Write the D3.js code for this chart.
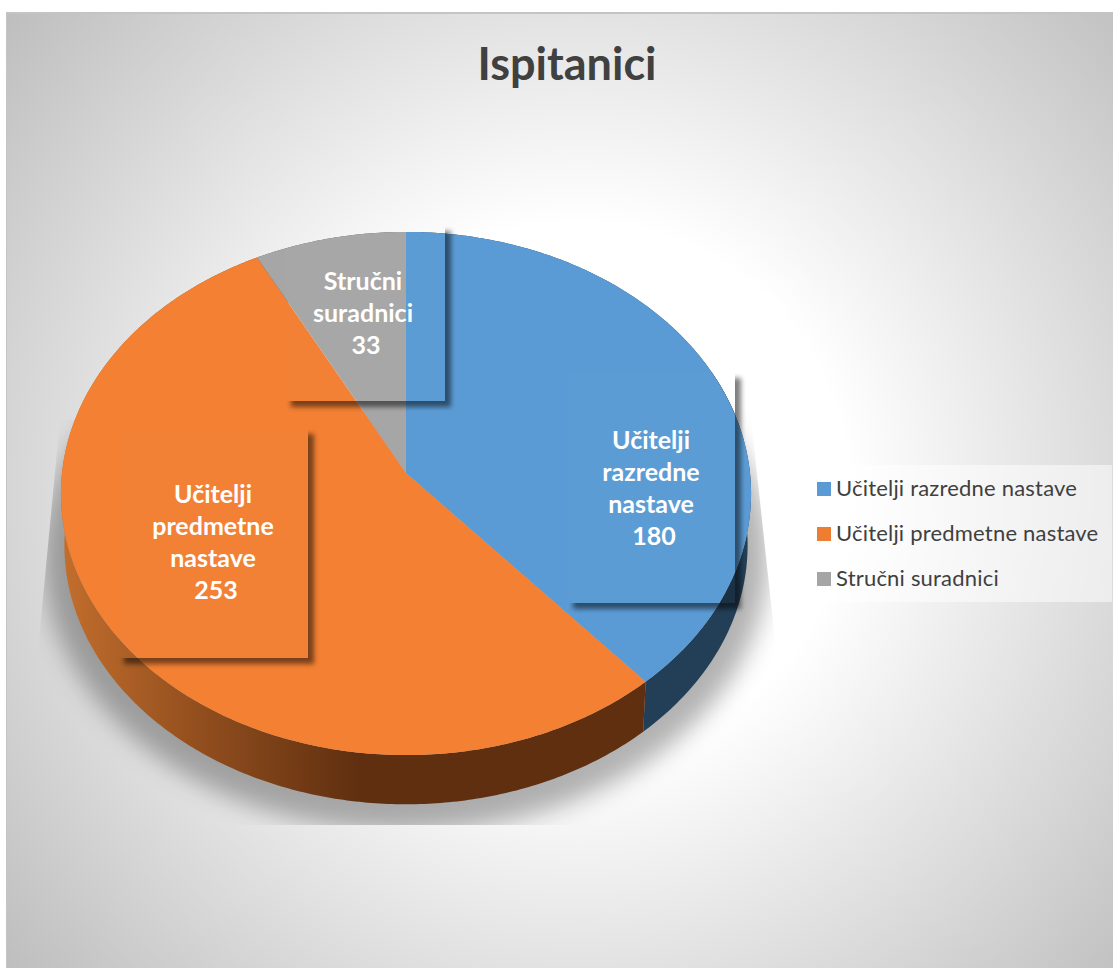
<!DOCTYPE html>
<html>
<head>
<meta charset="utf-8">
<script src="https://cdn.jsdelivr.net/npm/d3@7"></script>
<style>
    html, body { margin: 0; padding: 0; background: #fff; }
    svg { display: block; font-family: Lato, "Open Sans", sans-serif; }
</style>
</head>
<body>
<div id="chart"></div>
<script>
// data
const chartTitle = "Ispitanici";
const categories = ["Učitelji razredne nastave", "Učitelji predmetne nastave", "Stručni suradnici"];
const values = [180, 253, 33];
const labelLines = [
    ["Učitelji", "razredne", "nastave"],
    ["Učitelji", "predmetne", "nastave"],
    ["Stručni", "suradnici"]
];

const width = 1113, height = 968;

const svg = d3.select("#chart").append("svg")
    .attr("width", width)
    .attr("height", height);
const defs = svg.append("defs");

// pie geometry, tilted disc with a bit of perspective
const pieX = 406, pieY = 473, radX = 344, radY = 260, persp = 0.0784;
const wallScale = 0.99, wallDrop = 52;

function project(angle, s = 1, drop = 0) {
    // the original's projection opens up the back left quadrant a little
    let q = angle - 1.5 * Math.PI;
    if (q > 0) angle -= 0.047 * Math.sin(2 * q);
    let u = Math.sin(angle), v = -Math.cos(angle);
    let d = 1 - persp * v;
    return [pieX + radX * u / d * s, pieY + radY * v / d * s + drop];
}

const line = d3.line();
const arcPoints = (a0, a1, s, drop) => {
    let n = Math.max(2, Math.ceil((a1 - a0) * 90));
    return d3.range(n + 1).map(i => project(a0 + (a1 - a0) * i / n, s, drop));
};

const pie = d3.pie().sort(null)(values);
const color = d3.scaleOrdinal().domain(categories).range(["#5b9bd5", "#f38033", "#a6a6a6"]);
const legendColor = d3.scaleOrdinal().domain(categories).range(["#5b9bd5", "#ed7d31", "#a5a5a5"]);

// chart background
const bg = defs.append("radialGradient")
    .attr("id", "bg")
    .attr("gradientUnits", "userSpaceOnUse")
    .attr("cx", 580).attr("cy", 490).attr("r", 760);
bg.append("stop").attr("offset", "0.35").attr("stop-color", "#ffffff");
bg.append("stop").attr("offset", "1").attr("stop-color", "#bcbcbc");

svg.append("rect")
    .attr("x", 6).attr("y", 12)
    .attr("width", width - 6).attr("height", height - 12)
    .attr("fill", "#c4c4c4");
svg.append("rect")
    .attr("x", 7).attr("y", 14)
    .attr("width", width - 7).attr("height", height - 14)
    .attr("fill", "url(#bg)");

// blur filters
const blurBig = defs.append("filter").attr("id", "blurBig")
    .attr("x", "-10%").attr("y", "-10%").attr("width", "120%").attr("height", "120%");
blurBig.append("feGaussianBlur").attr("stdDeviation", 12);
const blurSmall = defs.append("filter").attr("id", "blurSmall")
    .attr("x", "-10%").attr("y", "-10%").attr("width", "120%").attr("height", "120%");
blurSmall.append("feGaussianBlur").attr("stdDeviation", 2.5);

// soft shadow of the disc, cut off by the odd trapezoid from the original
defs.append("clipPath").attr("id", "shadowClip")
    .append("polygon")
    .attr("points", "60,420 38,650 38,825 775,825 775,640 749,400");

svg.append("g").attr("clip-path", "url(#shadowClip)")
    .append("path")
    .attr("d", line(arcPoints(0, 2 * Math.PI, 1.05, wallDrop + 10)) + "Z")
    .attr("fill", "#000")
    .attr("fill-opacity", 0.3)
    .attr("filter", "url(#blurBig)");

// side wall
const wallGrad = defs.append("linearGradient")
    .attr("id", "wallOrange")
    .attr("gradientUnits", "userSpaceOnUse")
    .attr("x1", 61).attr("x2", 360).attr("y1", 0).attr("y2", 0);
wallGrad.append("stop").attr("offset", "0").attr("stop-color", "#c36e2d");
wallGrad.append("stop").attr("offset", "0.45").attr("stop-color", "#934f1e");
wallGrad.append("stop").attr("offset", "1").attr("stop-color", "#5f2f10");

const wallFill = ["#233f58", "url(#wallOrange)", "#5c5c5c"];
const wallPath = d => {
    let top = arcPoints(d.startAngle, d.endAngle, 1, 0);
    let bottom = arcPoints(d.startAngle, d.endAngle, wallScale, wallDrop).reverse();
    return line(top.concat(bottom)) + "Z";
};

svg.append("g").selectAll("path")
    .data(pie)
    .join("path")
    .attr("d", wallPath)
    .attr("fill", (d, i) => wallFill[i]);

// label boxes, sit on top of the pie
const boxes = [
    {x: 567, y: 372, w: 168, h: 231, cx: 651, firstLine: 449},
    {x: 118, y: 428, w: 190, h: 230, cx: 213, firstLine: 503},
    {x: 285, y: 225, w: 160, h: 176, cx: 363, firstLine: 290}
];

// the wall looks darker through the blue label box
defs.append("clipPath").attr("id", "blueBoxClip")
    .append("rect")
    .attr("x", boxes[0].x).attr("y", boxes[0].y)
    .attr("width", boxes[0].w).attr("height", boxes[0].h);
svg.append("path")
    .attr("d", wallPath(pie[0]))
    .attr("fill", "#182f42")
    .attr("clip-path", "url(#blueBoxClip)");

// top of the disc
svg.append("g").selectAll("path")
    .data(pie)
    .join("path")
    .attr("d", d => line([[pieX, pieY]].concat(arcPoints(d.startAngle, d.endAngle, 1, 0))) + "Z")
    .attr("fill", (d, i) => color(categories[i]));

// shadows are only visible outside the box
boxes.forEach((b, i) => {
    let outside = `M0,0H${width}V${height}H0Z M${b.x},${b.y}H${b.x + b.w}V${b.y + b.h}H${b.x}Z`;
    defs.append("clipPath").attr("id", "outside" + i)
        .append("path")
        .attr("d", outside)
        .attr("clip-rule", "evenodd");
    svg.append("g").attr("clip-path", `url(#outside${i})`)
        .append("rect")
        .attr("x", b.x + 6).attr("y", b.y + 6)
        .attr("width", b.w).attr("height", b.h)
        .attr("fill", "#000")
        .attr("fill-opacity", 0.5)
        .attr("filter", "url(#blurSmall)");
    svg.append("rect")
        .attr("x", b.x).attr("y", b.y)
        .attr("width", b.w).attr("height", b.h)
        .attr("fill", "#fff")
        .attr("fill-opacity", 0.012);
});

// data labels
const labelSize = 25, labelGap = 32;
const labels = svg.append("g")
    .attr("font-size", labelSize)
    .attr("font-weight", 700)
    .attr("fill", "#fff")
    .attr("text-anchor", "middle");
boxes.forEach((b, i) => {
    labelLines[i].concat([String(values[i])]).forEach((t, j) => {
        let isValue = j == labelLines[i].length;
        labels.append("text")
            .attr("x", b.cx + (isValue ? 3 : 0))
            .attr("y", b.firstLine + j * labelGap)
            .text(t);
    });
});

// title
svg.append("text")
    .attr("x", 567).attr("y", 80)
    .attr("text-anchor", "middle")
    .attr("font-size", 45)
    .attr("font-weight", 700)
    .attr("fill", "#404040")
    .text(chartTitle);

// legend
const legendY = d3.scalePoint().domain(categories).range([489, 579]);
svg.append("rect")
    .attr("x", 805).attr("y", 465)
    .attr("width", 307).attr("height", 137)
    .attr("fill", "#fff")
    .attr("fill-opacity", 0.5);

const legend = svg.append("g").selectAll("g")
    .data(categories)
    .join("g")
    .attr("transform", d => `translate(817,${legendY(d)})`);
legend.append("rect")
    .attr("y", -7)
    .attr("width", 14).attr("height", 14)
    .attr("fill", d => legendColor(d));
legend.append("text")
    .attr("x", 19).attr("y", 7)
    .attr("font-size", 22)
    .attr("letter-spacing", 0.2)
    .attr("fill", "#404040")
    .text(d => d);
</script>
</body>
</html>
